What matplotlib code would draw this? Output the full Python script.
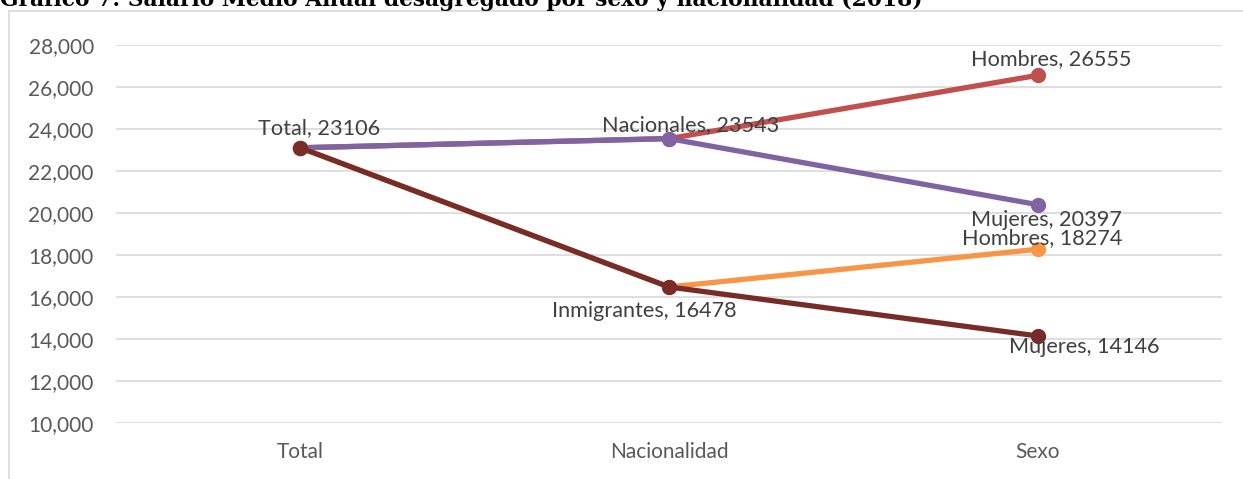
import matplotlib
matplotlib.use("Agg")
import matplotlib.pyplot as plt
from matplotlib.patches import Rectangle

categories = ["Total", "Nacionalidad", "Sexo"]
hombres_nac = [23106, 23543, 26555]
mujeres_nac = [23106, 23543, 20397]
hombres_inm = [23106, 16478, 18274]
mujeres_inm = [23106, 16478, 14146]
yticks = [10000, 12000, 14000, 16000, 18000, 20000, 22000, 24000, 26000, 28000]
title = "Gráfico 7: Salario Medio Anual desagregado por sexo y nacionalidad (2018)"

W, H = 1243, 479
fig = plt.figure(figsize=(W / 100, H / 100), dpi=100)
fig.patch.set_facecolor("white")

# outer chart border (extends beyond the image at right and bottom)
fig.patches.append(Rectangle((8.5 / W, -0.1), 1.2, 1.1 - 10.5 / H,
                             transform=fig.transFigure, fill=False,
                             edgecolor="#D9D9D9", lw=1.2, zorder=0))

fig.text(0.0 / W, 1 - 6 / H, title, fontfamily="DejaVu Serif", fontweight="bold",
         fontsize=15.7, va="baseline", ha="left", color="black")

ax = fig.add_axes([116 / W, 1 - 423 / H, (1222 - 116) / W, (423 - 45) / H])
x = list(range(len(categories)))

series = [
    (hombres_nac, "#C0504D"),
    (mujeres_nac, "#8064A2"),
    (hombres_inm, "#F79646"),
    (mujeres_inm, "#772C2A"),
]
for vals, col in series:
    ax.plot(x, vals, color=col, lw=3.8, marker="o", ms=10, solid_capstyle="round", zorder=3)

ax.set_xlim(-0.5, 2.5)
ax.set_ylim(10000, 28000)
ax.set_yticks(yticks)
ax.set_yticklabels([f"{v:,}" for v in yticks])
ax.set_xticks(x)
ax.set_xticklabels(categories)
ax.grid(axis="y", color="#D9D9D9", lw=1.2, zorder=0)
ax.set_axisbelow(True)
for s in ax.spines.values():
    s.set_visible(False)
ax.tick_params(axis="both", length=0, labelsize=15, labelcolor="#595959")
ax.tick_params(axis="y", pad=16)
ax.tick_params(axis="x", pad=14)
for lab in ax.get_xticklabels() + ax.get_yticklabels():
    lab.set_fontfamily("Lato")

labels = [
    (0, mujeres_inm[0], "Total", (19, 20)),
    (1, hombres_nac[1], "Nacionales", (22, 14)),
    (1, hombres_inm[1], "Inmigrantes", (-25, -24)),
    (2, hombres_nac[2], "Hombres", (14, 16)),
    (2, mujeres_nac[2], "Mujeres", (9, -15)),
    (2, hombres_inm[2], "Hombres", (5, 11)),
    (2, mujeres_inm[2], "Mujeres", (47, -11)),
]
for xi, v, name, off in labels:
    ax.annotate(f"{name}, {v}", (xi, v), xytext=off, textcoords="offset pixels",
                ha="center", va="center", fontsize=15.6, fontfamily="Lato",
                color="#404040", zorder=5)

fig.savefig("out.png", dpi=100, facecolor="white")
